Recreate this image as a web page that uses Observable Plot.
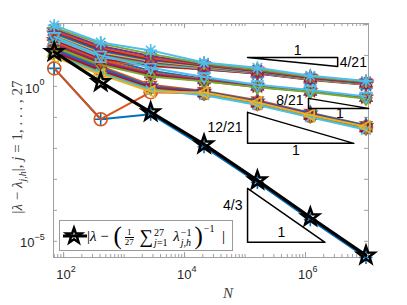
<!DOCTYPE html>
<html><head><meta charset="utf-8">
<script src="https://cdn.jsdelivr.net/npm/d3@7"></script>
<script src="https://cdn.jsdelivr.net/npm/@observablehq/plot@0.6"></script>
<style>
body{margin:0;background:#fff;}
#wrap{position:relative;width:407px;height:305px;overflow:hidden;}
#legend{position:absolute;left:59px;top:220px;width:174px;height:31px;border:1px solid #9a9a9a;background:#fff;box-sizing:border-box;}
#legmath{position:absolute;left:27px;top:0px;white-space:nowrap;font-family:"Liberation Serif",serif;font-size:15px;color:#000;line-height:29px;}
#legmath .bp{font-size:25px;vertical-align:-3px;margin:0 1px;}
#legmath .fr{display:inline-block;vertical-align:middle;font-size:9px;line-height:9px;text-align:center;margin:0 2px;}
#legmath .fr .den{display:block;border-top:0.8px solid #000;}
#legmath .fr .num{display:block;}
#legmath .ss{display:inline-block;vertical-align:middle;font-size:10px;line-height:10px;text-align:left;margin-left:1px;margin-right:2px;}
#legmath .ss span{display:block;}
#legmath .op{font-size:19px;vertical-align:-2px;}
#legmath sup{font-size:10px;vertical-align:9px;line-height:0;}
</style></head><body><div id="wrap"></div>
<script>
// ---------- data ----------
const N = [70, 410, 2750, 21000, 160000, 1200000, 10000000];
const meanErr = [12.9, 1.38, 0.148, 0.0135, 0.00093, 0.00006, 0.0000035];
const err01 = [3.8, 0.087, 0.126, 0.0112, 0.00079, 0.00005, 0.000003];
const err02 = [3.8, 0.087, 0.65, 0.60, 0.28, 0.112, 0.047];
const err03 = [17.8, 4.5, 1.12, 0.71, 0.355, 0.141, 0.056];
const err04 = [15.8, 4.0, 1.0, 0.68, 0.33, 0.135, 0.054];
const err05 = [14.1, 3.5, 0.93, 0.65, 0.32, 0.126, 0.05];
const err06 = [12.6, 3.2, 0.87, 0.60, 0.28, 0.112, 0.045];
const err07 = [11.2, 2.8, 0.81, 0.56, 0.26, 0.105, 0.042];
const err08 = [10, 2.6, 0.76, 0.52, 0.25, 0.1, 0.04];
const err09 = [32, 8.3, 3.2, 1.78, 1.07, 0.72, 0.45];
const err10 = [26, 7.1, 2.8, 1.66, 1.0, 0.71, 0.44];
const err11 = [24, 6.3, 2.5, 1.58, 0.98, 0.69, 0.43];
const err12 = [21, 5.6, 2.3, 1.5, 0.95, 0.68, 0.42];
const err13 = [19, 5.0, 2.1, 1.45, 0.93, 0.66, 0.4];
const err14 = [28, 7.1, 4.5, 3.5, 2.6, 1.62, 1.12];
const err15 = [32, 7.9, 4.8, 3.6, 2.6, 1.66, 1.15];
const err16 = [35, 8.9, 5.2, 3.8, 2.7, 1.7, 1.17];
const err17 = [38, 10, 5.6, 4.0, 2.75, 1.74, 1.2];
const err18 = [42, 11.2, 6.0, 4.2, 2.8, 1.78, 1.23];
const err19 = [48, 12.6, 6.6, 4.4, 2.95, 1.82, 1.26];
const err20 = [52, 14.1, 7.1, 4.6, 3.0, 1.86, 1.26];
const err21 = [60, 15.8, 7.6, 4.8, 3.2, 1.9, 1.32];
const err22 = [63, 17.8, 8.3, 5.0, 3.3, 2.0, 1.35];
const err23 = [71, 20, 9.5, 5.2, 3.5, 2.1, 1.4];
const err24 = [79, 24, 11.2, 5.5, 3.6, 2.1, 1.45];
const err25 = [8.9, 2.4, 0.68, 0.63, 0.30, 0.12, 0.05];
const err26 = [40, 10, 4.0, 2.0, 1.12, 0.76, 0.47];
const err27 = [93, 26, 14.5, 5.9, 4.0, 2.2, 1.5];

// slope triangles (data coordinates)
const tri1N = [1.1e5, 3.4e6, 3.4e6, 1.1e5], tri1E = [8.6, 8.6, 4.4, 8.6];
const tri2N = [1.12e6, 1.12e6, 1.1e7, 1.12e6], tri2E = [0.41, 0.195, 0.195, 0.41];
const tri3N = [1.1e5, 1.1e5, 6.3e6, 1.1e5], tri3E = [0.145, 0.0145, 0.0145, 0.145];
const tri4N = [1.1e5, 1.1e5, 2.1e6, 1.1e5], tri4E = [5.1e-4, 9.3e-6, 9.3e-6, 5.1e-4];
const runLabelN = [7.4e5, 3.7e6, 6.9e5, 4.0e5], runLabelE = [14.5, 0.135, 0.0087, 1.95e-5];
const riseRightN = [3.4e6], riseRightE = [5.9], riseRightText = ["4/21"];
const riseLeftN = [1.12e6, 1.1e5, 1.1e5], riseLeftE = [0.35, 0.048, 1.45e-4], riseLeftText = ["8/21", "12/21", "4/3"];

// ticks
const xTickVals = [1e2, 1e4, 1e6], xTickExp = ["2", "4", "6"];
const yTickVals = [1, 1e-5], yTickExp = ["0", "\u22125"];

// ---------- styles ----------
const C = {blue:"#0072BD", orange:"#D95319", yellow:"#EDB120", purple:"#7E2F8E", green:"#77AC30", lightblue:"#4DBEEE", darkred:"#A2142F"};
const series = [err01,err02,err03,err04,err05,err06,err07,err08,err09,err10,err11,err12,err13,err14,err15,err16,err17,err18,err19,err20,err21,err22,err23,err24,err25,err26,err27];
const seriesColor = ["blue","orange","orange","blue","purple","darkred","green","lightblue","blue","orange","purple","darkred","green","orange","darkred","lightblue","green","purple","yellow","blue","darkred","orange","purple","green","yellow","lightblue","lightblue"];
const seriesMarker = ["+","o","h","p","*","h","+","x","^","p","h","*","d","h","p","s","*","h","+","p","h","p","*","+","<","v","*"];

function mk(fn){ return {draw(c, size){ fn(c, Math.sqrt(size/Math.PI)); }}; }
function poly(c, pts){ c.moveTo(pts[0][0], pts[0][1]); for (let i=1;i<pts.length;i++) c.lineTo(pts[i][0], pts[i][1]); c.closePath(); }
function starPts(n, r, ri, rot){ const p=[]; for(let i=0;i<2*n;i++){ const a=rot+i*Math.PI/n; const rr=i%2?ri:r; p.push([rr*Math.sin(a), -rr*Math.cos(a)]);} return p; }
const SYM = {
  "+": mk((c,r)=>{c.moveTo(-r,0);c.lineTo(r,0);c.moveTo(0,-r);c.lineTo(0,r);}),
  "x": mk((c,r)=>{const a=r*0.75;c.moveTo(-a,-a);c.lineTo(a,a);c.moveTo(-a,a);c.lineTo(a,-a);}),
  "*": mk((c,r)=>{const a=r*0.72;c.moveTo(-r,0);c.lineTo(r,0);c.moveTo(0,-r);c.lineTo(0,r);c.moveTo(-a,-a);c.lineTo(a,a);c.moveTo(-a,a);c.lineTo(a,-a);}),
  "o": mk((c,r)=>{c.moveTo(r,0);c.arc(0,0,r,0,2*Math.PI);}),
  "s": mk((c,r)=>{const a=r*0.8;poly(c,[[-a,-a],[a,-a],[a,a],[-a,a]]);}),
  "d": mk((c,r)=>{poly(c,[[0,-r],[r*0.75,0],[0,r],[-r*0.75,0]]);}),
  "^": mk((c,r)=>{poly(c,[[0,-r],[0.87*r,0.6*r],[-0.87*r,0.6*r]]);}),
  "v": mk((c,r)=>{poly(c,[[0,r],[0.87*r,-0.6*r],[-0.87*r,-0.6*r]]);}),
  "<": mk((c,r)=>{poly(c,[[-r,0],[0.6*r,-0.87*r],[0.6*r,0.87*r]]);}),
  ">": mk((c,r)=>{poly(c,[[r,0],[-0.6*r,-0.87*r],[-0.6*r,0.87*r]]);}),
  "p": mk((c,r)=>{poly(c,starPts(5,r,r*0.4,0));}),
  "h": mk((c,r)=>{poly(c,starPts(6,r,r*0.55,0));})
};

// ---------- layout ----------
const W = 407, H = 305, mL = 53, mR = 39, mT = 23, mB = 48;
const iw = W - mL - mR, ih = H - mT - mB;
const axisCol = "#a0a0a0", textCol = "#262626";
const sans = "Liberation Sans, Arial, sans-serif";

const xMinor = [];
for (let e = 1; e <= 7; e++) for (let k = 1; k <= 9; k++) { const v = k * 10 ** e; if (v >= 68 && v <= 1.1e7) xMinor.push(v); }
const yDecades = [1e-5, 1e-4, 1e-3, 1e-2, 1e-1, 1, 10, 100];

const marks = [
  Plot.frame({stroke: axisCol, strokeWidth: 1}),
  Plot.tickX(xMinor, {x: d => d, stroke: axisCol, insetTop: ih - 3}),
  Plot.tickX(xMinor, {x: d => d, stroke: axisCol, insetBottom: ih - 3}),
  Plot.tickX(xTickVals, {x: d => d, stroke: axisCol, insetTop: ih - 5}),
  Plot.tickX(xTickVals, {x: d => d, stroke: axisCol, insetBottom: ih - 5}),
  Plot.tickY(yDecades, {y: d => d, stroke: axisCol, insetRight: iw - 4}),
  Plot.tickY(yDecades, {y: d => d, stroke: axisCol, insetLeft: iw - 4}),
  Plot.text(xTickVals, {x: d => d, frameAnchor: "bottom", text: () => "10", textAnchor: "end", dx: 7, dy: 21, fontSize: 13, fill: textCol, fontFamily: sans}),
  Plot.text(xTickVals, {x: d => d, frameAnchor: "bottom", text: (d, i) => xTickExp[i], textAnchor: "start", dx: 7, dy: 14, fontSize: 9, fill: textCol, fontFamily: sans})
];
const yLabDx = [-14, -19];
yTickVals.forEach((v, i) => {
  marks.push(Plot.text([v], {y: d => d, frameAnchor: "left", text: () => "10", textAnchor: "end", dx: yLabDx[i], dy: 2, fontSize: 13, fill: textCol, fontFamily: sans}));
  marks.push(Plot.text([v], {y: d => d, frameAnchor: "left", text: () => yTickExp[i], textAnchor: "start", dx: yLabDx[i], dy: -4, fontSize: 9, fill: textCol, fontFamily: sans}));
});

series.forEach((vals, k) => {
  const rows = N.map((n, i) => ({N: n, e: vals[i]}));
  const c = C[seriesColor[k]];
  marks.push(Plot.line(rows, {x: "N", y: "e", stroke: c, strokeWidth: 2}));
  marks.push(Plot.dot(rows, {x: "N", y: "e", stroke: c, fill: "none", r: 6.5, strokeWidth: 1.6, symbol: SYM[seriesMarker[k]]}));
});

[[tri1N, tri1E], [tri2N, tri2E], [tri3N, tri3E], [tri4N, tri4E]].forEach(([xs, ys]) => {
  marks.push(Plot.line(xs.map((n, i) => ({N: n, e: ys[i]})), {x: "N", y: "e", stroke: "#000", strokeWidth: 1.5}));
});
marks.push(Plot.text(runLabelN.map((n, i) => ({N: n, e: runLabelE[i]})), {x: "N", y: "e", text: () => "1", fontSize: 14, fill: "#000", fontFamily: sans}));
marks.push(Plot.text(riseRightN.map((n, i) => ({N: n, e: riseRightE[i], t: riseRightText[i]})), {x: "N", y: "e", text: "t", textAnchor: "start", dx: 2, fontSize: 14, fill: "#000", fontFamily: sans}));
marks.push(Plot.text(riseLeftN.map((n, i) => ({N: n, e: riseLeftE[i], t: riseLeftText[i]})), {x: "N", y: "e", text: "t", textAnchor: "end", dx: -5, fontSize: 14, fill: "#000", fontFamily: sans}));

const meanRows = N.map((n, i) => ({N: n, e: meanErr[i]}));
marks.push(Plot.line(meanRows, {x: "N", y: "e", stroke: "#000", strokeWidth: 3.2}));
marks.push(Plot.dot(meanRows, {x: "N", y: "e", stroke: "#000", fill: "none", r: 9, strokeWidth: 2.5, symbol: SYM["p"]}));

const chart = Plot.plot({
  width: W, height: H, marginLeft: mL, marginRight: mR, marginTop: mT, marginBottom: mB,
  x: {type: "log", domain: [68, 1.1e7], axis: null},
  y: {type: "log", domain: [3.0e-6, 107], axis: null},
  style: {fontFamily: sans, background: "#fff", overflow: "visible"},
  marks
});
const wrap = document.getElementById("wrap");
wrap.appendChild(chart);

// axis titles
const svg = d3.select(chart);
const yl = svg.append("text").attr("transform", "translate(22,147) rotate(-90)").attr("text-anchor", "middle")
  .attr("font-family", "Liberation Serif, serif").attr("font-size", 15).attr("fill", "#404040");
yl.append("tspan").text("|");
yl.append("tspan").attr("font-style", "italic").text("λ");
yl.append("tspan").text(" − ");
yl.append("tspan").attr("font-style", "italic").text("λ");
yl.append("tspan").attr("font-style", "italic").attr("font-size", 10).attr("dy", 4).text("j,h");
yl.append("tspan").attr("dy", -4).text("|, ");
yl.append("tspan").attr("font-style", "italic").text("j");
yl.append("tspan").text(" = 1, . . . , 27");
svg.append("text").attr("x", 228).attr("y", 298).attr("text-anchor", "middle")
  .attr("font-family", "Liberation Serif, serif").attr("font-style", "italic").attr("font-size", 15).attr("fill", "#404040").text("N");

// legend
const leg = document.createElement("div");
leg.id = "legend";
const p = d3.path(); SYM["p"].draw(p, Math.PI * 8 * 8);
leg.innerHTML = `<svg width="28" height="29" style="position:absolute;left:1px;top:0px"><line x1="2" x2="26" y1="15" y2="15" stroke="#000" stroke-width="3"/><path transform="translate(13,15)" d="${p.toString()}" fill="none" stroke="#000" stroke-width="2.5" stroke-linejoin="miter"/></svg>
<div id="legmath">|<i>λ</i> − <span class="bp">(</span><span class="fr"><span class="num">1</span><span class="den">27</span></span> <span class="op">∑</span><span class="ss"><span>27</span><span><i>j</i>=1</span></span> <i>λ</i><span class="ss"><span>−1</span><span><i>j,h</i></span></span><span class="bp">)</span><sup>−1</sup> &nbsp;|</div>`;
wrap.appendChild(leg);
</script>
</body></html>
